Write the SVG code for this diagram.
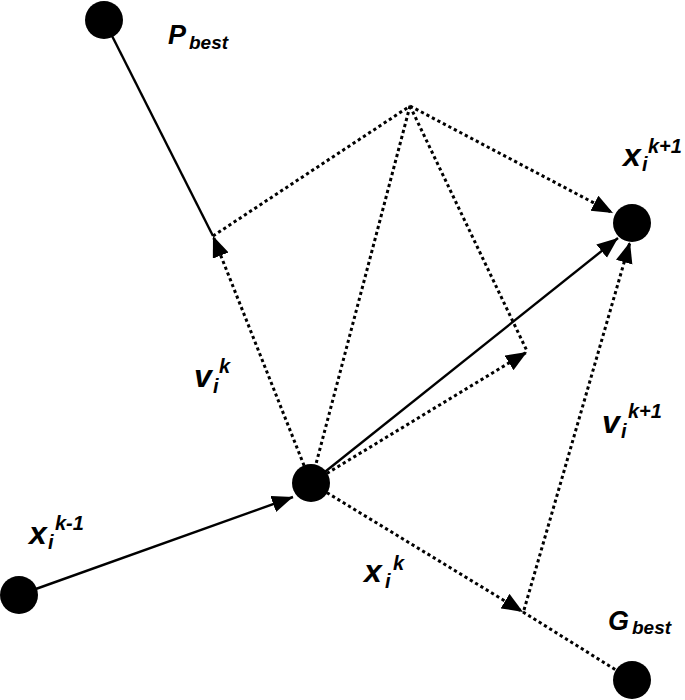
<svg xmlns="http://www.w3.org/2000/svg" width="685" height="700" viewBox="0 0 685 700">
<defs>
<marker id="ah" markerUnits="userSpaceOnUse" markerWidth="24" markerHeight="18" refX="21" refY="8.5" orient="auto">
<path d="M0,0 L21,8.5 L0,17 z" fill="#000"/>
</marker>
<style>
.solid{stroke:#000;stroke-width:2.4;fill:none}
.dot{stroke:#000;stroke-width:3;fill:none;stroke-dasharray:3.2 3}
.node{fill:#000}
.t{font-family:"Liberation Sans",Arial,sans-serif;font-weight:bold;font-style:italic;fill:#000}
.big{font-size:32px}
.cap{font-size:27px}
.sm{font-size:20px}
.sub{font-size:19px}
</style>
</defs>
<rect width="685" height="700" fill="#fff"/>
<g id="connectors">
<line class="solid" x1="19" y1="595" x2="293" y2="497" marker-end="url(#ah)"/>
<line class="solid" x1="104" y1="20" x2="213" y2="236"/>
<line class="dot" x1="311" y1="483" x2="213" y2="236" marker-end="url(#ah)"/>
<line class="dot" x1="213" y1="236" x2="410" y2="106"/>
<line class="dot" x1="410" y1="106" x2="613" y2="213" marker-end="url(#ah)"/>
<line class="dot" x1="410" y1="106" x2="311" y2="483"/>
<line class="dot" x1="410" y1="106" x2="527" y2="351"/>
<line class="dot" x1="311" y1="483" x2="527" y2="352" marker-end="url(#ah)"/>
<line class="solid" x1="311" y1="483" x2="618" y2="238" marker-end="url(#ah)"/>
<line class="dot" x1="311" y1="483" x2="523" y2="612" marker-end="url(#ah)"/>
<line class="dot" x1="523" y1="612" x2="632" y2="680"/>
<line class="dot" x1="524" y1="610" x2="630" y2="242" marker-end="url(#ah)"/>
</g>
<g id="pbest">
<circle class="node" cx="104" cy="20" r="19"/>
<text class="t cap" x="168" y="44">P</text>
<text class="t sub" x="189" y="49">best</text>
</g>
<g id="xk1">
<circle class="node" cx="632" cy="223" r="19"/>
<text class="t big" x="623" y="166">x</text>
<text class="t sm" x="642" y="171">i</text>
<text class="t sm" x="648" y="153">k+1</text>
</g>
<g id="xk">
<circle class="node" cx="311" cy="483" r="19"/>
</g>
<g id="xkm1">
<circle class="node" cx="19" cy="595" r="19"/>
<text class="t big" x="29" y="544">x</text>
<text class="t sm" x="48" y="549">i</text>
<text class="t sm" x="55" y="530">k-1</text>
</g>
<g id="gbest">
<circle class="node" cx="632" cy="680" r="19"/>
<text class="t cap" x="608" y="630">G</text>
<text class="t sub" x="632" y="634">best</text>
</g>
<g id="labels">
<text class="t big" x="194" y="387">v</text>
<text class="t sm" x="213" y="393">i</text>
<text class="t sm" x="219" y="373">k</text>
<text class="t big" x="602" y="433">v</text>
<text class="t sm" x="621" y="438">i</text>
<text class="t sm" x="628" y="418">k+1</text>
<text class="t big" x="364" y="582">x</text>
<text class="t sm" x="385" y="588">i</text>
<text class="t sm" x="393" y="570">k</text>
</g>
</svg>
